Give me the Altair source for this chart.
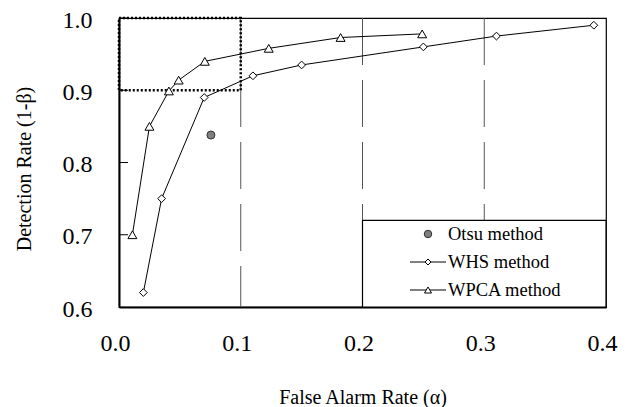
import altair as alt
import pandas as pd

# ---- data ----
series_names = ["Otsu method", "WHS method", "WPCA method"]
otsu_x = [0.0755]
otsu_y = [0.838]
whs_x = [0.02, 0.035, 0.07, 0.11, 0.15, 0.25, 0.31, 0.39]
whs_y = [0.62, 0.75, 0.89, 0.92, 0.935, 0.96, 0.975, 0.99]
wpca_x = [0.011, 0.025, 0.041, 0.049, 0.0705, 0.123, 0.182, 0.249]
wpca_y = [0.70, 0.85, 0.899, 0.914, 0.94, 0.958, 0.973, 0.978]
x_ticks = [0.0, 0.1, 0.2, 0.3, 0.4]
y_ticks = [0.6, 0.7, 0.8, 0.9, 1.0]
grid_x = [0.1, 0.2, 0.3]
zoom_box = [0.0, 0.1, 0.9, 1.0]      # x, x2, y, y2
legend_box = [0.2, 0.4, 0.6, 0.72]   # x, x2, y, y2

FONT = "Liberation Serif"
W, H = 487, 289
TOP = 10

xs = alt.Scale(domain=[0, 0.4], nice=False, zero=False)
ys = alt.Scale(domain=[0.6, 1.0], nice=False, zero=False)

x_axis = alt.Axis(
    values=x_ticks, format=".1f", ticks=False, grid=False, labelFlush=False, labelOffset=-4,
    labelFont=FONT, labelFontSize=24, labelColor="black", labelPadding=24,
    domainColor="black", domainWidth=2,
    title="False Alarm Rate (α)", titleFont=FONT, titleFontSize=20, titleFontWeight="normal",
    titleColor="black", titleBaseline="alphabetic", titleY=96)
y_axis = alt.Axis(
    values=y_ticks, format=".1f", ticks=False, grid=False, labelFlush=False, labelOffset=2,
    labelFont=FONT, labelFontSize=24, labelColor="black", labelPadding=27,
    domainColor="black", domainWidth=2,
    title="Detection Rate (1-β)", titleFont=FONT, titleFontSize=20, titleFontWeight="normal",
    titleColor="black", titleBaseline="alphabetic", titleAngle=270, titleAlign="center",
    titleX=-89, titleY=168.5 - 8 - TOP)

X = lambda f="x:Q": alt.X(f, scale=xs, axis=x_axis)
Y = lambda f="y:Q": alt.Y(f, scale=ys, axis=y_axis)

lines_df = pd.DataFrame({
    "x": whs_x + wpca_x,
    "y": whs_y + wpca_y,
    "series": ["WHS method"] * len(whs_x) + ["WPCA method"] * len(wpca_x),
})
otsu_df = pd.DataFrame({"x": otsu_x, "y": otsu_y})
grid_df = pd.DataFrame({"x": grid_x})
yt_df = pd.DataFrame({"y": y_ticks[1:]})
zb_df = pd.DataFrame({"x": [zoom_box[0]], "x2": [zoom_box[1]], "y": [zoom_box[2]], "y2": [zoom_box[3]]})
lb_df = pd.DataFrame({"x": [legend_box[0]], "x2": [legend_box[1]], "y": [legend_box[2]], "y2": [legend_box[3]]})

grid = alt.Chart(grid_df).mark_rule(color="#555555", strokeWidth=1, strokeDash=[47, 15]).encode(
    x=X(), y=alt.value(0), y2=alt.value(H),
)

lbox = alt.Chart(lb_df).mark_rect(fill="white", stroke="black", strokeWidth=1.2).encode(
    x=X(), x2="x2:Q", y=Y(), y2="y2:Q",
)

zbox = alt.Chart(zb_df).mark_rect(fill=None, stroke="black", strokeWidth=2.5, strokeDash=[2, 2]).encode(
    x=X(), x2="x2:Q", y=Y(), y2="y2:Q",
)

lines = alt.Chart(lines_df).mark_line(color="black", strokeWidth=1).encode(
    x=X(), y=Y(), detail="series:N",
)

pts = alt.Chart(lines_df).mark_point(filled=True, fill="white", stroke="black", strokeWidth=1, opacity=1).encode(
    x=X(), y=Y(),
    shape=alt.Shape("series:N", scale=alt.Scale(domain=series_names[1:], range=["diamond", "triangle-up"]), legend=None),
    size=alt.Size("series:N", scale=alt.Scale(domain=series_names[1:], range=[60, 80]), legend=None),
)

otsu = alt.Chart(otsu_df).mark_point(filled=True, shape="circle", size=64, fill="#808080",
                                     stroke="#333333", strokeWidth=1, opacity=1).encode(
    x=X(), y=Y(),
)

yticks = alt.Chart(yt_df).mark_rule(color="black", strokeWidth=1).encode(
    y=Y(), x=alt.value(0), x2=alt.value(9),
)

# ---- manual legend (pixel rows relative to the plot top) ----
leg_df = pd.DataFrame({"label": series_names})
row_y = [v - 8 - TOP for v in (234, 262, 290)]
leg_layers = []
for i, name in enumerate(series_names):
    d = leg_df[leg_df["label"] == name]
    leg_layers.append(alt.Chart(d).mark_text(align="left", baseline="middle", font=FONT,
                                             fontSize=18.5, color="black").encode(
        x=alt.value(329), y=alt.value(row_y[i]), text="label:N"))
    if i == 0:
        leg_layers.append(alt.Chart(d).mark_point(filled=True, shape="circle", size=56, fill="#808080",
                                                  stroke="#333333", strokeWidth=1, opacity=1).encode(
            x=alt.value(309), y=alt.value(row_y[i])))
    else:
        leg_layers.append(alt.Chart(d).mark_rule(color="black", strokeWidth=1).encode(
            x=alt.value(291), x2=alt.value(327), y=alt.value(row_y[i])))
        leg_layers.append(alt.Chart(d).mark_point(filled=True, fill="white", stroke="black", strokeWidth=1,
                                                  opacity=1, shape="diamond" if i == 1 else "triangle-up",
                                                  size=36 if i == 1 else 49).encode(
            x=alt.value(309), y=alt.value(row_y[i])))

chart = alt.layer(grid, lbox, zbox, lines, pts, otsu, yticks, *leg_layers).properties(
    width=W, height=H,
    autosize=alt.AutoSizeParams(type="none"),
    padding={"left": 111, "top": TOP, "right": 18, "bottom": 100},
).configure(background="white", font=FONT).configure_view(
    stroke="black", strokeWidth=1.2
).configure_axis(labelFont=FONT, titleFont=FONT).configure_text(font=FONT)

chart.save("out.html", embed_options={"renderer": "svg", "actions": False})
